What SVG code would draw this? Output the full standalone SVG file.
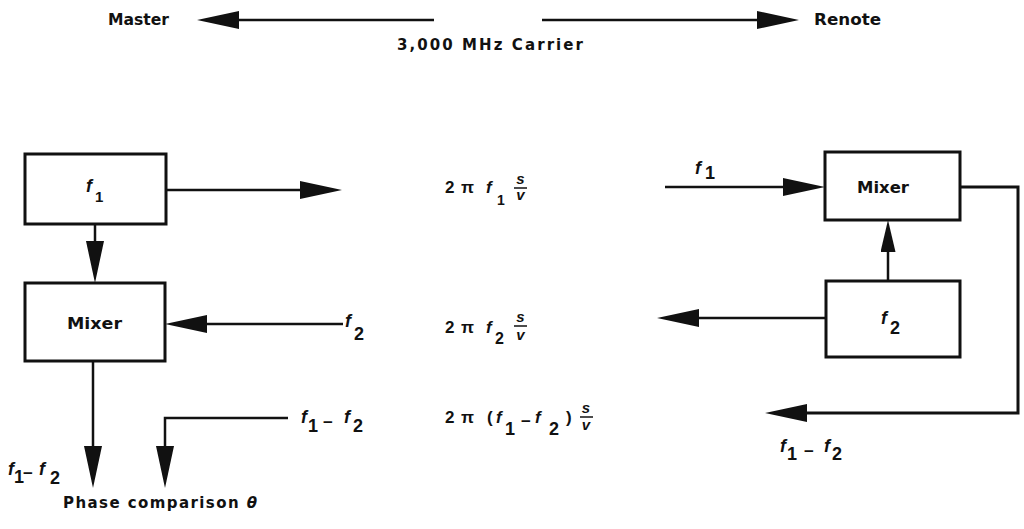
<svg xmlns="http://www.w3.org/2000/svg" width="1024" height="529" viewBox="0 0 1024 529">
<style>
.t{font-family:"DejaVu Sans",Verdana,sans-serif;font-weight:bold;font-size:15px;fill:#111}
.i{font-family:"Liberation Sans",Arial,sans-serif;font-style:italic;font-weight:bold;font-size:18px;fill:#111}
.n{font-family:"Liberation Sans",Arial,sans-serif;font-weight:bold;font-size:17px;fill:#111}
.s{font-size:18px}
.fr{font-size:15px}
.box{fill:#fff;stroke:#111;stroke-width:3}
.c{fill:none;stroke:#111;stroke-width:2.5}
.bar{stroke:#111;stroke-width:1.5}
</style>
<defs>
<marker id="ah" markerUnits="userSpaceOnUse" viewBox="0 0 42 18" refX="0" refY="9" markerWidth="42" markerHeight="18" orient="auto"><path d="M0,0 L42,9 L0,18 Z" fill="#111"/></marker>
<marker id="ahs" markerUnits="userSpaceOnUse" viewBox="0 0 32 15" refX="0" refY="7.5" markerWidth="32" markerHeight="15" orient="auto"><path d="M0,0 L32,7.5 L0,15 Z" fill="#111"/></marker>
</defs>

<g id="connectors">
<path class="c" d="M434,20 L239,20" marker-end="url(#ah)"/>
<path class="c" d="M542,20 L757,20" marker-end="url(#ah)"/>
<path class="c" d="M166,190 L300,190" marker-end="url(#ah)"/>
<path class="c" d="M95,224 L95,241" marker-end="url(#ah)"/>
<path class="c" d="M343,324 L207,324" marker-end="url(#ah)"/>
<path class="c" d="M93,361 L93,446" marker-end="url(#ah)"/>
<path class="c" d="M288,418 L165,418 L165,446" marker-end="url(#ah)"/>
<path class="c" d="M665,187 L783,187" marker-end="url(#ah)"/>
<path class="c" d="M888,281 L888,252" marker-end="url(#ahs)"/>
<path class="c" d="M826,318 L699,318" marker-end="url(#ah)"/>
<path class="c" style="stroke-width:3" d="M960,187 L1018,187 L1018,413 L807,413" marker-end="url(#ah)"/>
</g>

<g id="top-labels">
<text class="t" x="108" y="25" textLength="61" lengthAdjust="spacingAndGlyphs">Master</text>
<text class="t" x="814" y="25" textLength="67" lengthAdjust="spacingAndGlyphs">Renote</text>
<text class="t" x="397" y="50" textLength="186" lengthAdjust="spacing">3,000 MHz Carrier</text>
</g>

<g id="node-f1">
<rect class="box" x="25" y="154" width="141" height="70"/>
<text class="i" x="86" y="192">f</text><text class="n" x="95" y="202" style="font-size:15px">1</text>
</g>

<g id="node-mixer-left">
<rect class="box" x="25" y="283" width="140" height="78"/>
<text class="t" x="67" y="329" textLength="55" lengthAdjust="spacingAndGlyphs">Mixer</text>
</g>

<g id="node-mixer-right">
<rect class="box" x="825" y="152" width="135" height="68"/>
<text class="t" x="857" y="193" textLength="52" lengthAdjust="spacingAndGlyphs">Mixer</text>
</g>

<g id="node-f2">
<rect class="box" x="826" y="281" width="134" height="76"/>
<text class="i" x="881" y="324">f</text><text class="n s" x="890" y="334">2</text>
</g>

<g id="labels">
<text class="i" x="695" y="174">f</text><text class="n s" x="705" y="179">1</text>
<text class="i" x="345" y="327">f</text><text class="n s" x="354" y="340">2</text>
<text class="i" x="301" y="423">f</text><text class="n s" x="308" y="432">1</text><text class="n" x="323" y="428">−</text><text class="i" x="344" y="423">f</text><text class="n s" x="353" y="432">2</text>
<text class="i" x="8" y="475">f</text><text class="n s" x="14" y="483">1</text><text class="n" x="23" y="479">−</text><text class="i" x="39" y="475">f</text><text class="n s" x="50" y="484">2</text>
<text class="i" x="780" y="452">f</text><text class="n s" x="787" y="460">1</text><text class="n" x="804" y="457">−</text><text class="i" x="824" y="452">f</text><text class="n s" x="832" y="460">2</text>
<text class="t" x="63" y="508" textLength="194" lengthAdjust="spacing">Phase comparison <tspan font-style="italic">θ</tspan></text>
</g>

<g id="formulas">
<text class="n" x="445" y="193">2</text><text class="n" x="461" y="193">π</text><text class="i" x="486" y="193" style="font-size:17px">f</text><text class="n" x="497" y="205" style="font-size:14px">1</text>
<text class="i fr" x="520.5" y="184" text-anchor="middle">s</text><line class="bar" x1="514" y1="188" x2="527" y2="188"/><text class="i fr" x="520.5" y="200" text-anchor="middle">v</text>

<text class="n" x="445" y="333">2</text><text class="n" x="461" y="333">π</text><text class="i" x="486" y="333" style="font-size:17px">f</text><text class="n" x="495" y="344" style="font-size:16px">2</text>
<text class="i fr" x="520.5" y="322" text-anchor="middle">s</text><line class="bar" x1="514" y1="326" x2="527" y2="326"/><text class="i fr" x="520.5" y="340" text-anchor="middle">v</text>

<text class="n" x="445" y="423">2</text><text class="n" x="461" y="423">π</text><text class="n" x="487" y="423">(</text><text class="i" x="496" y="423" style="font-size:17px">f</text><text class="n s" x="505" y="435">1</text><text class="n" x="521" y="427">−</text><text class="i" x="535" y="423" style="font-size:17px">f</text><text class="n s" x="549" y="435">2</text><text class="n" x="566" y="423">)</text>
<text class="i fr" x="586" y="413" text-anchor="middle">s</text><line class="bar" x1="580" y1="417" x2="593" y2="417"/><text class="i fr" x="586" y="430" text-anchor="middle">v</text>
</g>
</svg>
